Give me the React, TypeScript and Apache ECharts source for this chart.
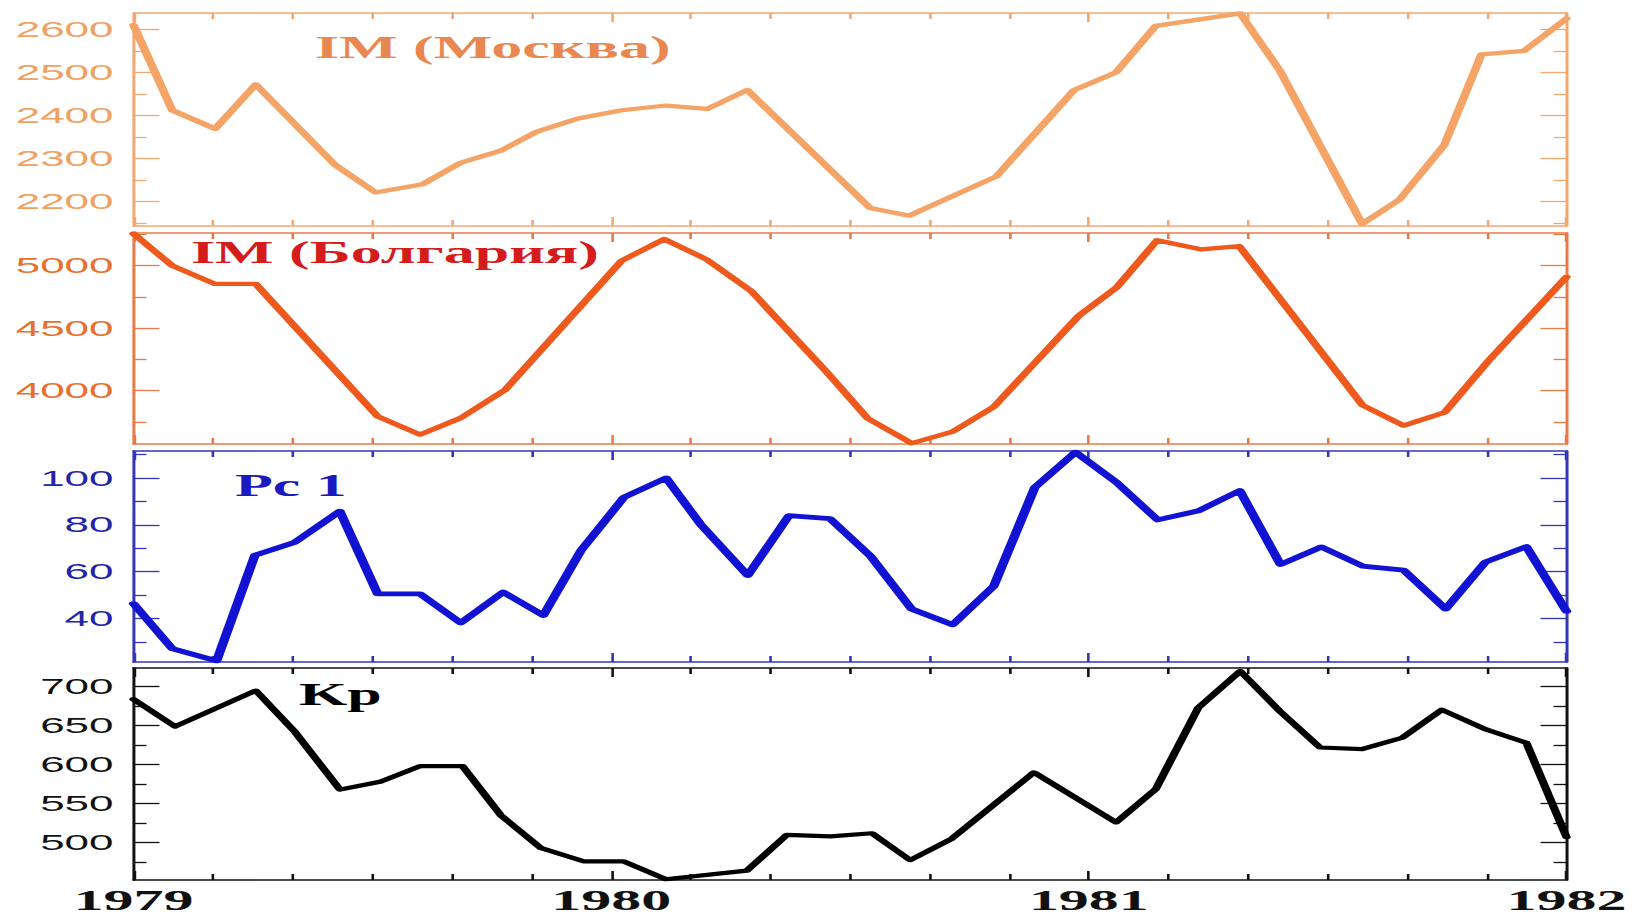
import React, { useEffect, useRef } from 'react';
import * as echarts from 'echarts';

// ---------- data ----------
const yearTicks = [1979, 1980, 1981, 1982];

const moscowTicks = [2200, 2300, 2400, 2500, 2600];
const moscowMinor = [2150, 2250, 2350, 2450, 2550];
const bulgariaTicks = [4000, 4500, 5000];
const bulgariaMinor = [3750, 4250, 4750, 5250];
const pcTicks = [40, 60, 80, 100];
const pcMinor = [30, 50, 70, 90, 110];
const kpTicks = [500, 550, 600, 650, 700];
const kpMinor = [475, 525, 575, 625, 675];

const moscowX = [1979.0, 1979.081, 1979.171, 1979.256, 1979.422, 1979.507, 1979.605, 1979.685, 1979.769, 1979.844, 1979.928, 1980.022, 1980.115, 1980.201, 1980.285, 1980.542, 1980.624, 1980.806, 1980.969, 1981.057, 1981.14, 1981.317, 1981.4, 1981.572, 1981.65, 1981.744, 1981.822, 1981.911, 1982.0];
const moscowY = [2610, 2412, 2369, 2472, 2285, 2221, 2240, 2290, 2318, 2362, 2392, 2412, 2423, 2415, 2459, 2185, 2167, 2258, 2459, 2500, 2608, 2637, 2504, 2148, 2204, 2331, 2542, 2550, 2625];

const bulgariaX = [1979.0, 1979.081, 1979.17, 1979.256, 1979.511, 1979.6, 1979.685, 1979.778, 1980.022, 1980.111, 1980.2, 1980.293, 1980.451, 1980.537, 1980.629, 1980.715, 1980.801, 1980.979, 1981.058, 1981.143, 1981.236, 1981.315, 1981.573, 1981.659, 1981.745, 1981.837, 1982.0];
const bulgariaY = [5257, 5000, 4854, 4854, 3793, 3647, 3780, 4005, 5040, 5213, 5050, 4798, 4149, 3777, 3578, 3671, 3870, 4599, 4825, 5204, 5130, 5156, 3883, 3719, 3825, 4240, 4910];

const pcX = [1979.0, 1979.081, 1979.174, 1979.254, 1979.338, 1979.432, 1979.511, 1979.6, 1979.685, 1979.774, 1979.858, 1979.937, 1980.027, 1980.115, 1980.187, 1980.286, 1980.372, 1980.458, 1980.543, 1980.629, 1980.715, 1980.801, 1980.887, 1980.972, 1981.058, 1981.144, 1981.23, 1981.316, 1981.401, 1981.487, 1981.573, 1981.659, 1981.747, 1981.83, 1981.916, 1982.0];
const pcY = [46.4, 27.2, 22, 67, 72.6, 85.8, 50.6, 50.6, 38.2, 51.3, 41.4, 69.1, 91.8, 100, 80.3, 58.4, 83.9, 82.7, 66.7, 44.1, 37.4, 53.9, 96, 111, 98.1, 82.1, 86, 94.6, 63.1, 70.6, 62.4, 60.7, 44.1, 64.1, 70.7, 43.1];

const kpX = [1979.0, 1979.087, 1979.256, 1979.338, 1979.432, 1979.516, 1979.6, 1979.689, 1979.769, 1979.853, 1979.942, 1980.026, 1980.114, 1980.284, 1980.368, 1980.459, 1980.546, 1980.626, 1980.713, 1980.802, 1980.885, 1981.057, 1981.14, 1981.229, 1981.317, 1981.4, 1981.484, 1981.572, 1981.656, 1981.739, 1981.832, 1981.916, 1982.0];
const kpY = [684, 649, 695, 642, 568, 578, 598, 598, 535, 493, 476, 476, 453, 464, 510, 508, 512, 477.5, 505, 549, 590, 526, 568.5, 673, 720, 668.5, 622, 620, 634.5, 670.5, 645, 628, 507];

// ---------- layout ----------
const CW = 818;
const CH = 918;
const S = 1635 / CW; // horizontal stretch of the whole picture

const panels = [
  {
    title: 'IM (Москва)', x: moscowX, y: moscowY, ticks: moscowTicks, minor: moscowMinor,
    min: 2143, max: 2638, top: 13, height: 213,
    line: '#F4A466', lineWidth: 4.3, label: '#F0A060', border: '#F2A870', titleColor: '#E8874F',
    titleX: 315, titleY: 48,
  },
  {
    title: 'IM (Болгария)', x: bulgariaX, y: bulgariaY, ticks: bulgariaTicks, minor: bulgariaMinor,
    min: 3572, max: 5262, top: 233, height: 211,
    line: '#EE5A1E', lineWidth: 4.3, label: '#E8702E', border: '#E87A48', titleColor: '#D41C1C',
    titleX: 191, titleY: 253,
  },
  {
    title: 'Pc 1', x: pcX, y: pcY, ticks: pcTicks, minor: pcMinor,
    min: 21.5, max: 111.5, top: 451, height: 211,
    line: '#1212D2', lineWidth: 4.8, label: '#2424A8', border: '#3535B8', titleColor: '#1A1ABF',
    titleX: 235, titleY: 486,
  },
  {
    title: 'Kp', x: kpX, y: kpY, ticks: kpTicks, minor: kpMinor,
    min: 452, max: 724, top: 668, height: 212,
    line: '#000000', lineWidth: 4.2, label: '#111111', border: '#111111', titleColor: '#000000',
    titleX: 299, titleY: 695,
  },
];

export default function App() {
  const ref = useRef<HTMLDivElement>(null);

  useEffect(() => {
    if (!ref.current) return;
    const chart = echarts.init(ref.current, undefined, { renderer: 'svg', width: CW, height: CH });

    const grid: any[] = [];
    const xAxis: any[] = [];
    const yAxis: any[] = [];
    const series: any[] = [];
    const graphic: any[] = [];

    panels.forEach((p, i) => {
      grid.push({
        left: 133.5 / S,
        right: CW - 1566.5 / S,
        top: p.top,
        height: p.height,
        containLabel: false,
        outerBoundsMode: 'none',
      });

      const isLast = i === panels.length - 1;
      const xBase = (position: string, labels: boolean) => ({
        type: 'value',
        gridIndex: i,
        position,
        min: 1979,
        max: 1982,
        interval: 1,
        axisLine: { show: true, onZero: false, lineStyle: { color: p.border, width: 1.5 } },
        axisTick: { show: true, inside: true, length: 9, lineStyle: { color: p.border, width: 1.3 } },
        minorTick: { show: true, splitNumber: 6, length: 6, lineStyle: { color: p.border, width: 1.3 } },
        splitLine: { show: false },
        minorSplitLine: { show: false },
        axisLabel: labels
          ? {
              show: true,
              customValues: yearTicks,
              showMinLabel: true,
              showMaxLabel: true,
              margin: 5,
              color: '#111',
              fontFamily: '"Liberation Serif", "DejaVu Serif", serif',
              fontWeight: 'bold',
              fontSize: 30,
              lineHeight: 30,
              formatter: (v: number) => String(Math.round(v)),
            }
          : { show: false },
      });
      xAxis.push(xBase('bottom', isLast));
      xAxis.push(xBase('top', false));

      const yBase = (position: string, major: boolean, labels: boolean) => ({
        type: 'value',
        gridIndex: i,
        position,
        min: p.min,
        max: p.max,
        axisLine: { show: major, onZero: false, lineStyle: { color: p.border, width: 1.5 } },
        axisTick: {
          show: true,
          inside: true,
          length: major ? 13 : 6.5,
          customValues: major ? p.ticks : p.minor,
          lineStyle: { color: p.border, width: 1.3 },
        },
        splitLine: { show: false },
        axisLabel: labels
          ? {
              show: true,
              customValues: p.ticks,
              margin: 10,
              color: p.label,
              fontFamily: '"Liberation Sans", Arial, sans-serif',
              fontSize: 22,
              formatter: (v: number) => String(v),
            }
          : { show: false },
      });
      // order matters: left major, right major, then minors (ECharts flips duplicate positions)
      yAxis.push(yBase('left', true, true));
      yAxis.push(yBase('right', true, false));
      yAxis.push(yBase('left', false, false));
      yAxis.push(yBase('right', false, false));

      series.push({
        type: 'line',
        name: p.title,
        xAxisIndex: i * 2,
        yAxisIndex: i * 4,
        data: p.x.map((v, k) => [v, p.y[k]]),
        symbol: 'none',
        showSymbol: false,
        smooth: false,
        lineStyle: { color: p.line, width: p.lineWidth, join: 'round', cap: 'round' },
        itemStyle: { color: p.line },
        z: 3,
      });

      graphic.push({
        type: 'text',
        x: p.titleX / S,
        y: p.titleY,
        z: 10,
        style: {
          text: p.title,
          fill: p.titleColor,
          font: 'bold 31px "Liberation Serif", "DejaVu Serif", serif',
          align: 'left',
          verticalAlign: 'middle',
        },
      });
    });

    chart.setOption({
      animation: false,
      backgroundColor: '#ffffff',
      grid,
      xAxis,
      yAxis,
      series,
      graphic,
    });

    return () => chart.dispose();
  }, []);

  return (
    <div
      style={{
        position: 'absolute',
        left: 0,
        top: 0,
        width: 1635,
        height: 918,
        overflow: 'hidden',
        background: '#fff',
      }}
    >
      <div
        ref={ref}
        style={{
          width: CW,
          height: CH,
          transform: `scaleX(${S})`,
          transformOrigin: '0 0',
        }}
      />
    </div>
  );
}
